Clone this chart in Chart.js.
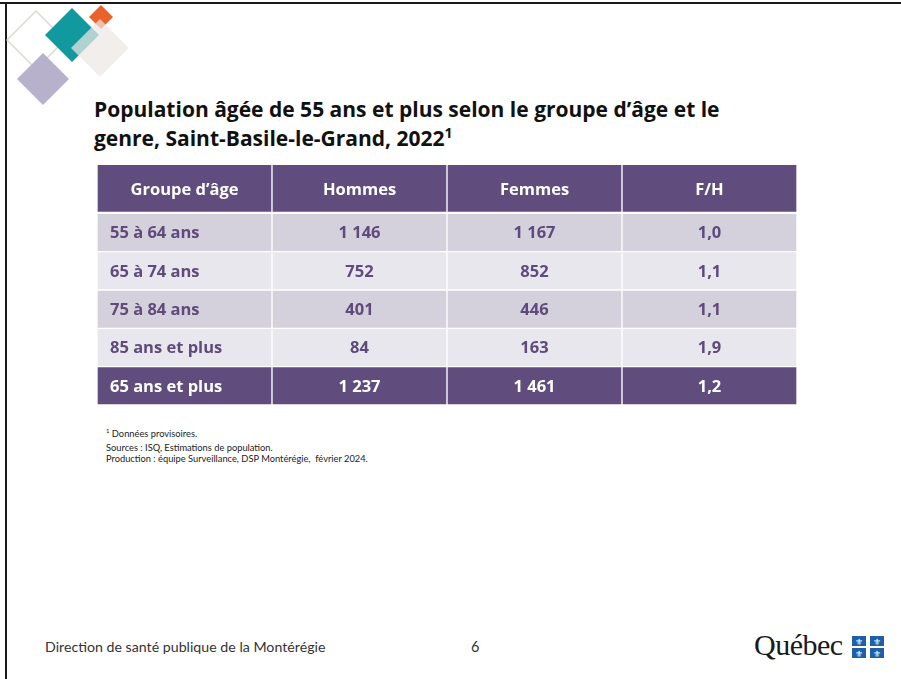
<!DOCTYPE html>
<html lang="fr">
<head>
<meta charset="utf-8">
<script src="https://cdn.jsdelivr.net/npm/chart.js@4"></script>
<style>
  html, body { margin: 0; padding: 0; background: #fff; }
  #page { position: relative; width: 901px; height: 679px; overflow: hidden; background: #fff; font-family: Lato, "Open Sans", sans-serif; }
  #topline { position: absolute; left: 0; top: 2px; width: 901px; height: 2px; background: #1a1a1a; }
  #leftline { position: absolute; left: 5px; top: 2px; width: 2px; height: 677px; background: #1a1a1a; }
  #logo { position: absolute; left: 0; top: 0; }
  #title { position: absolute; left: 94px; top: 95px; font-family: "Open Sans", sans-serif; font-weight: 700; font-size: 21px; line-height: 29px; color: #111; white-space: nowrap; letter-spacing: 0px; }
  #title sup { font-size: 14px; vertical-align: 8px; line-height: 0; }
  #tableCanvas { position: absolute; left: 97px; top: 165px; }
  .note { position: absolute; left: 106px; font-size: 9.3px; color: #222; white-space: nowrap; line-height: 10px; }
  #footer { position: absolute; left: 45px; top: 638px; font-size: 14.2px; color: #333; white-space: nowrap; }
  #pagenum { position: absolute; left: 471px; top: 638px; font-size: 14.5px; color: #333; }
  #quebec { position: absolute; left: 754px; top: 628px; font-family: "Liberation Serif", "DejaVu Serif", serif; font-size: 30px; color: #1a1a1a; letter-spacing: -0.5px; }
  #flag { position: absolute; left: 851px; top: 635px; }
</style>
</head>
<body>
<div id="page">
  <div id="topline"></div>
  <div id="leftline"></div>
  <svg id="logo" width="140" height="110" viewBox="0 0 140 110">
    <polygon points="36,11 65,40 36,69 7,40" fill="none" stroke="#d6dccf" stroke-width="1.5" stroke-linejoin="round"/>
    <polygon points="43,53 69,79 43,105 17,79" fill="#b8b1cb"/>
    <polygon points="72,8 99,35 72,62 45,35" fill="#12999f"/>
    <polygon points="101,5 113,17 101,29 89,17" fill="#e8622a"/>
    <polygon points="100,19 129,48 100,77 71,48" fill="#ebe8e4" fill-opacity="0.72"/>
  </svg>
  <div id="title">Population âgée de 55 ans et plus selon le groupe d’âge et le<br>genre, Saint-Basile-le-Grand, 2022<sup>1</sup></div>
  <canvas id="tableCanvas" width="700" height="240"></canvas>
  <div class="note" style="top:426px;"><sup style="font-size:6px">1</sup> Données provisoires.</div>
  <div class="note" style="top:443px;">Sources : ISQ, Estimations de population.</div>
  <div class="note" style="top:454px;">Production : équipe Surveillance, DSP Montérégie,&nbsp; février 2024.</div>
  <div id="footer">Direction de santé publique de la Montérégie</div>
  <div id="pagenum">6</div>
  <div id="quebec">Québec</div>
  <svg id="flag" width="34" height="24" viewBox="0 0 34 24">
    <rect x="0" y="0" width="34" height="24" fill="#fff"/>
    <rect x="1" y="1" width="14" height="10" fill="#1f5fa8"/>
    <rect x="19" y="1" width="14" height="10" fill="#1f5fa8"/>
    <rect x="1" y="13" width="14" height="10" fill="#1f5fa8"/>
    <rect x="19" y="13" width="14" height="10" fill="#1f5fa8"/>
    <g font-family="DejaVu Sans" font-size="9" fill="#fff" text-anchor="middle">
      <text x="8" y="9.5">⚜</text><text x="26" y="9.5">⚜</text>
      <text x="8" y="21.5">⚜</text><text x="26" y="21.5">⚜</text>
    </g>
  </svg>
</div>
<script>
// ---- Data ----
const columnHeaders = ['Groupe d’âge', 'Hommes', 'Femmes', 'F/H'];
const ageGroups = ['55 à 64 ans', '65 à 74 ans', '75 à 84 ans', '85 ans et plus', '65 ans et plus'];
const hommes = [1146, 752, 401, 84, 1237];
const femmes = [1167, 852, 446, 163, 1461];
const ratioFH = [1.0, 1.1, 1.1, 1.9, 1.2];

// ---- Styling ----
const HEADER_UNITS = 1.26;
const purple = '#614d7d';
const lightA = '#d4d0dc';
const lightB = '#e9e7ee';
const textPurple = '#5f4b7b';

function fmtInt(n) {
  return String(n).replace(/\B(?=(\d{3})+(?!\d))/g, '\u00a0');
}
function fmtDec(n) {
  return n.toFixed(1).replace('.', ',');
}

const datasets = [];
datasets.push({
  label: 'header',
  data: columnHeaders.map(() => [0, HEADER_UNITS]),
  cellText: columnHeaders.slice(),
  backgroundColor: purple,
  textColor: '#ffffff',
  isHeader: true,
  borderWidth: { top: 0, left: 1, right: 1, bottom: 2 }
});
ageGroups.forEach((g, i) => {
  const top = HEADER_UNITS + i;
  const isTotal = i === ageGroups.length - 1;
  datasets.push({
    label: g,
    data: columnHeaders.map(() => [top, top + 1]),
    cellText: [g, fmtInt(hommes[i]), fmtInt(femmes[i]), fmtDec(ratioFH[i])],
    backgroundColor: isTotal ? purple : (i % 2 === 0 ? lightA : lightB),
    textColor: isTotal ? '#ffffff' : textPurple,
    isHeader: false,
    borderWidth: { top: 1, left: 1, right: 1, bottom: 1 }
  });
});
datasets.forEach(d => {
  d.borderColor = '#ffffff';
  d.borderSkipped = false;
  d.barPercentage = 1;
  d.categoryPercentage = 1;
  d.grouped = false;
});

const cellTextPlugin = {
  id: 'cellText',
  afterDatasetsDraw(chart) {
    const ctx = chart.ctx;
    ctx.save();
    chart.data.datasets.forEach((ds, di) => {
      const meta = chart.getDatasetMeta(di);
      meta.data.forEach((el, ci) => {
        const p = el.getProps(['x', 'y', 'base', 'width'], true);
        const cy = (p.y + p.base) / 2 + 1;
        ctx.fillStyle = ds.textColor;
        ctx.font = 'bold 16.5px "Open Sans", sans-serif';
        ctx.textBaseline = 'middle';
        if (ci === 0 && !ds.isHeader) {
          ctx.textAlign = 'left';
          ctx.fillText(ds.cellText[ci], p.x - p.width / 2 + 13, cy);
        } else {
          ctx.textAlign = 'center';
          ctx.fillText(ds.cellText[ci], p.x, cy);
        }
      });
    });
    ctx.restore();
  }
};

new Chart(document.getElementById('tableCanvas'), {
  type: 'bar',
  data: { labels: columnHeaders, datasets: datasets },
  options: {
    responsive: false,
    animation: false,
    devicePixelRatio: 1,
    layout: { padding: 0 },
    plugins: { legend: { display: false }, tooltip: { enabled: false }, title: { display: false } },
    scales: {
      x: { type: 'category', display: false, offset: true, grid: { display: false } },
      y: { type: 'linear', display: false, reverse: true, min: 0, max: HEADER_UNITS + ageGroups.length, grid: { display: false } }
    }
  },
  plugins: [cellTextPlugin]
});
</script>
</body>
</html>
